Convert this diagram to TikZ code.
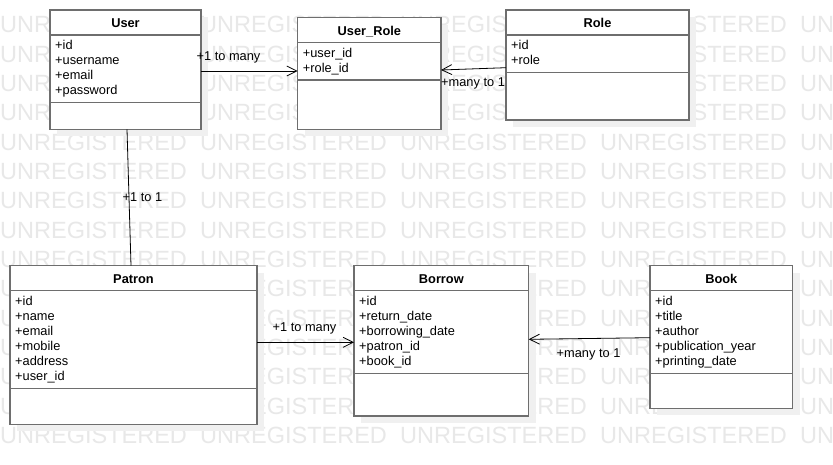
\documentclass[tikz,border=0pt]{standalone}
\usepackage{fontspec}
\setmainfont{Liberation Sans}
\usetikzlibrary{arrows.meta,calc,shadows}
\definecolor{boxgray}{HTML}{6E6E6E}
\definecolor{wmgray}{HTML}{E8E8E8}
\definecolor{shadowgray}{HTML}{F0F0F0}

\newcommand\umlclass[7]{%
  \node[classbox, minimum width=#4pt, minimum height=#5pt] (#1) at (#2,#3) {};
  \draw[sepline] ($(#1.north west)+(0,25)$) -- ($(#1.north east)+(0,25)$);
  \node[classtitle] (#1-title) at ($(#1.north)+(0,17.5)$) {#6};
  \foreach \t [count=\i] in {#7} {%
    \node[attr] (#1-a\i) at ($(#1.north west)+(5,{40+15*(\i-1)})$) {\t};
    \xdef\nattr{\i}}
  \draw[sepline] ($(#1.north west)+(0,{32.5+15*\nattr})$) -- ($(#1.north east)+(0,{32.5+15*\nattr})$);
}

\begin{document}
\begin{tikzpicture}[x=1pt,y=-1pt,
  classbox/.style={draw=boxgray, line width=1.4pt, fill=white, rectangle, inner sep=0pt, outer sep=0pt,
    anchor=north west, general shadow={fill=shadowgray, shadow xshift=7pt, shadow yshift=-7pt}},
  sepline/.style={draw=boxgray, line width=1.4pt},
  classtitle/.style={font=\fontsize{12.8}{15}\selectfont\bfseries, anchor=base, inner sep=0pt},
  attr/.style={font=\fontsize{12.8}{15}\selectfont, anchor=base west, inner sep=0pt},
  lbl/.style={font=\fontsize{12.8}{15}\selectfont, anchor=base west, inner sep=0pt},
  assoc/.style={draw=black, line width=0.8pt},
  nav/.style={assoc, -{Straight Barb[length=10pt,width=10pt,line width=0.8pt]}},
  wm/.style={font=\fontsize{23.5}{24}\selectfont, text=wmgray, anchor=base west, inner sep=0pt},
]
\useasboundingbox (0,0) rectangle (833,465);
\fill[white] (0,0) rectangle (833,465);

% watermark
\begin{scope}
  \clip (0,0) rectangle (833,465);
  \foreach \r in {0,...,14} {
    \foreach \c in {0,...,4} {
      \node[wm] (wm-\r-\c) at ({200*\c},{32.8+29.33*\r}) {UNREGISTERED};
    }
  }
\end{scope}

% classes
\umlclass{user}{50}{10}{151}{119.3}{User}{+id,+username,+email,+password}
\umlclass{ur}{297.7}{17.7}{143.3}{111.6}{User\_Role}{+user\_id,+role\_id}
\umlclass{role}{506}{10}{183}{110}{Role}{+id,+role}
\umlclass{patron}{10}{265.7}{247}{158.6}{Patron}{+id,+name,+email,+mobile,+address,+user\_id}
\umlclass{borrow}{354}{265.7}{174.7}{150.3}{Borrow}{+id,+return\_date,+borrowing\_date,+patron\_id,+book\_id}
\umlclass{book}{650}{265.7}{142.7}{142.6}{Book}{+id,+title,+author,+publication\_year,+printing\_date}

% connectors
\draw[nav] ($(user.north east)+(0,61)$) -- ($(ur.north west)+(0,53.3)$);
\draw[nav] ($(role.north west)+(0,57.7)$) -- ($(ur.north east)+(0,52.3)$);
\draw[assoc] ($(user.south west)+(77,0)$) -- ($(patron.north west)+(121,0)$);
\draw[nav] ($(patron.north east)+(0,76.6)$) -- ($(borrow.north west)+(0,76.6)$);
\draw[nav] ($(book.north west)+(0,72)$) -- ($(borrow.north east)+(0,73.6)$);

% labels
\node[lbl] (l-user-ur) at (196.5,60.5) {+1 to many};
\node[lbl] (l-role-ur) at (441,87) {+many to 1};
\node[lbl] (l-user-patron) at (122.5,201.8) {+1 to 1};
\node[lbl] (l-patron-borrow) at (272.5,331) {+1 to many};
\node[lbl] (l-book-borrow) at (556.5,357) {+many to 1};
\end{tikzpicture}
\end{document}
